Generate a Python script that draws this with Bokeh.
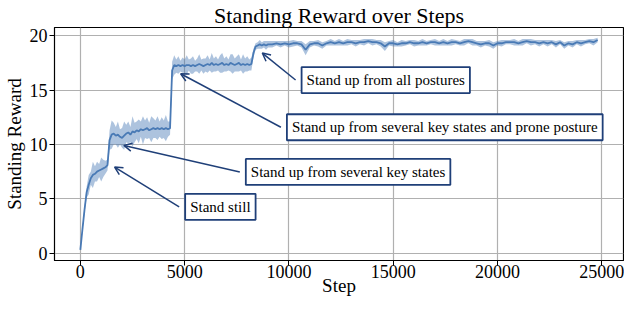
from bokeh.plotting import figure
from bokeh.models import Range1d, Arrow, OpenHead, FixedTicker, ColumnDataSource, Band
from bokeh.core.properties import value
from bokeh.embed import file_html
from bokeh.resources import INLINE

# ---- data ----
steps_a = list(range(0, 9001, 100))
mean_a = [0.3, 2.2, 4.0, 5.6, 6.3, 6.9, 7.2, 7.3, 7.5, 7.6,
          7.7, 7.8, 7.9, 8.1, 10.4, 10.9, 11.0, 10.8, 10.9, 10.7,
          10.6, 10.8, 11.0, 11.1, 10.9, 11.2, 11.1, 11.3, 11.2, 11.4,
          11.3, 11.4, 11.5, 11.3, 11.4, 11.5, 11.4, 11.5, 11.4, 11.5,
          11.4, 11.5, 11.4, 11.5, 16.8, 17.3, 17.2, 17.3, 17.2, 17.3,
          17.2, 17.3, 17.3, 17.2, 17.3, 17.2, 17.3, 17.4, 17.3, 17.2,
          17.3, 17.4, 17.3, 17.5, 17.3, 17.4, 17.3, 17.4, 17.5, 17.3,
          17.4, 17.3, 17.5, 17.4, 17.3, 17.4, 17.5, 17.3, 17.4, 17.3,
          17.4, 17.3, 17.4, 18.4, 19.0, 19.1, 19.2, 19.1, 19.2, 19.1,
          19.2]
spread_a = [0.1, 0.2, 0.3, 0.5, 0.9, 0.6, 1.2, 0.7, 0.9, 0.6,
            1.1, 0.8, 0.6, 0.5, 0.9, 1.3, 1.0, 0.8, 1.2, 0.7,
            0.9, 1.3, 0.8, 1.0, 0.7, 1.4, 0.9, 0.8, 1.1, 0.7,
            1.3, 0.8, 1.0, 0.7, 1.2, 0.9, 0.8, 1.1, 0.7, 1.0,
            0.8, 1.2, 0.7, 0.6, 0.8, 0.9, 0.6, 0.8, 0.5, 0.7,
            0.6, 0.9, 0.5, 0.7, 0.8, 0.5, 0.6, 0.9, 0.5, 0.7,
            0.6, 0.8, 0.5, 0.9, 0.6, 0.7, 0.5, 0.8, 0.9, 0.6,
            0.7, 0.5, 0.8, 0.9, 0.6, 0.7, 0.8, 0.5, 0.9, 0.6,
            0.7, 0.5, 0.6, 0.4, 0.3, 0.3, 0.4, 0.3, 0.3, 0.4,
            0.3]

steps_b = list(range(9200, 24801, 200))
mean_b = [19.2, 19.3, 19.2, 19.3, 19.2, 19.3, 19.3, 19.2, 18.7, 19.2,
          19.3, 19.3, 19.1, 19.3, 19.4, 19.3, 19.4, 19.3, 19.4, 19.4,
          19.3, 19.4, 19.4, 19.5, 19.4, 19.4, 19.3, 19.0, 19.3, 19.3,
          19.2, 19.3, 19.3, 19.4, 19.3, 19.3, 19.4, 19.3, 19.4, 19.4,
          19.3, 19.4, 19.3, 19.4, 19.4, 19.3, 19.4, 19.5, 19.4, 19.3,
          19.2, 19.3, 19.3, 19.1, 19.3, 19.3, 19.4, 19.4, 19.4, 19.3,
          19.4, 19.5, 19.4, 19.4, 19.3, 19.4, 19.3, 19.4, 19.2, 19.4,
          19.1, 19.3, 19.2, 19.4, 19.3, 19.4, 19.5, 19.4, 19.6]
spread_b = [0.3, 0.2, 0.3, 0.2, 0.3, 0.3, 0.2, 0.3, 0.5, 0.3,
            0.2, 0.3, 0.3, 0.2, 0.3, 0.2, 0.3, 0.2, 0.3, 0.2,
            0.3, 0.2, 0.3, 0.2, 0.3, 0.2, 0.3, 0.4, 0.2, 0.3,
            0.2, 0.3, 0.2, 0.2, 0.3, 0.2, 0.3, 0.2, 0.2, 0.3,
            0.2, 0.3, 0.2, 0.3, 0.2, 0.2, 0.3, 0.2, 0.3, 0.2,
            0.3, 0.2, 0.3, 0.3, 0.2, 0.3, 0.2, 0.2, 0.3, 0.2,
            0.3, 0.2, 0.3, 0.2, 0.3, 0.2, 0.3, 0.2, 0.3, 0.2,
            0.3, 0.2, 0.3, 0.2, 0.3, 0.2, 0.2, 0.3, 0.2]

x_ticks = [0, 5000, 10000, 15000, 20000, 25000]
y_ticks = [0, 5, 10, 15, 20]

# annotations: text, box left (step), box middle (reward), arrow target step, arrow target reward
ann_text = ["Stand still",
            "Stand up from several key states",
            "Stand up from several key states and prone posture",
            "Stand up from all postures"]
ann_x = [4737, 7645, 9615, 10319]
ann_y = [4.26, 7.47, 11.58, 15.92]
tgt_x = [1642, 2087, 4808, 8724]
tgt_y = [7.92, 9.91, 16.50, 18.40]

# ---- build ----
steps = steps_a + steps_b
mean = mean_a + mean_b
spread = spread_a + spread_b
lower = [m - s for m, s in zip(mean, spread)]
upper = [m + s for m, s in zip(mean, spread)]
src = ColumnDataSource(dict(x=steps, y=mean, lo=lower, hi=upper))
ann_src = ColumnDataSource(dict(x=ann_x, y=ann_y, text=ann_text))

FONT = "Liberation Serif"
LINE = "#4a7ab5"
NAVY = "#1f3f78"

p = figure(width=624, height=298, output_backend="svg", toolbar_location=None,
           x_range=Range1d(-1240, 26040), y_range=Range1d(-0.67, 20.75),
           min_border_left=0, min_border_right=1, min_border_top=0, min_border_bottom=0)

p.title.text = "Standing Reward over Steps"
p.title.align = "center"
p.title.text_font = FONT
p.title.text_font_size = "22px"
p.title.text_font_style = "normal"
p.title.text_color = "black"
p.title.standoff = 0

band = Band(base="x", lower="lo", upper="hi", source=src,
            fill_color=LINE, fill_alpha=0.45, line_alpha=0)
p.add_layout(band)
p.line("x", "y", source=src, line_color=LINE, line_width=1.8)

for ax, ticks, lab in ((p.xaxis[0], x_ticks, "Step"), (p.yaxis[0], y_ticks, "Standing Reward")):
    ax.ticker = FixedTicker(ticks=ticks)
    ax.axis_label = lab
    ax.axis_label_text_font = FONT
    ax.axis_label_text_font_size = "19px"
    ax.axis_label_text_font_style = "normal"
    ax.axis_label_text_color = "black"
    ax.major_label_text_font = FONT
    ax.major_label_text_font_size = "18px"
    ax.major_label_text_color = "black"
    ax.major_tick_out = 5
    ax.major_tick_in = 0
    ax.minor_tick_out = 0
    ax.minor_tick_in = 0
    ax.major_tick_line_color = "black"
    ax.axis_line_color = "black"

p.xaxis[0].major_label_standoff = -1
p.xaxis[0].axis_label_standoff = -6
p.yaxis[0].major_label_standoff = 2
p.yaxis[0].axis_label_standoff = 2

p.xgrid.ticker = FixedTicker(ticks=x_ticks)
p.ygrid.ticker = FixedTicker(ticks=y_ticks)
p.grid.grid_line_color = "#b0b0b0"
p.grid.grid_line_width = 1.2
p.outline_line_color = "black"
p.outline_line_width = 1.2
p.outline_line_alpha = 1

for bx, by, tx, ty in zip(ann_x, ann_y, tgt_x, tgt_y):
    p.add_layout(Arrow(end=OpenHead(size=8, line_color=NAVY, line_width=1.5),
                       x_start=bx, y_start=by, x_end=tx, y_end=ty,
                       line_color=NAVY, line_width=1.5))

p.text(x="x", y="y", text="text", source=ann_src, x_offset=6,
       text_align="left", text_baseline="middle",
       text_font=value(FONT), text_font_size="15px", text_color="black",
       background_fill_color="white", background_fill_alpha=1,
       border_line_color=NAVY, border_line_width=1.8, padding=5)

open("out.html", "w").write(file_html(p, INLINE))
